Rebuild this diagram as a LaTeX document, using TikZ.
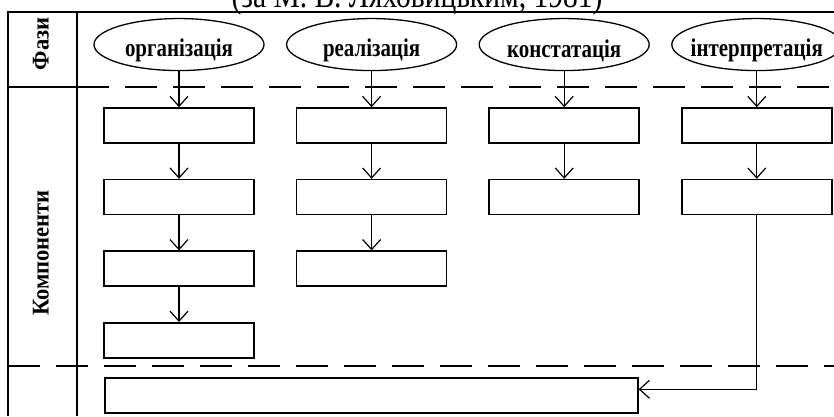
\documentclass[tikz,border=0pt]{standalone}
\usepackage{fontspec}
\setmainfont{Liberation Serif}
\newfontfamily\narrowfont[FakeStretch=0.82]{Liberation Serif}
\newfontfamily\headfont[FakeStretch=0.94]{Liberation Serif}
\usetikzlibrary{positioning,shapes.geometric,arrows.meta}

\begin{document}
\begin{tikzpicture}[
                x=1pt,y=-1pt,
                node distance=35pt and 41pt,
                comp/.style={rectangle,draw,line width=1.6pt,minimum width=150pt,minimum height=35pt,inner sep=0pt},
                phase/.style={ellipse,draw,line width=1.3pt,minimum width=170pt,minimum height=52pt,inner sep=0pt,
                              label={[font=\narrowfont\bfseries\fontsize{25.5}{25.5}\selectfont,anchor=base,yshift=-6pt]center:#1}},
                arr/.style={-{Straight Barb[length=10pt,width=18pt]},line width=1.2pt},
                sep/.style={dash pattern=on 32pt off 16pt,line width=1.6pt},
                head/.style={rotate=90,font=\headfont\bfseries\fontsize{24}{24}\selectfont}
            ]
                \useasboundingbox (0,0) rectangle (834,416);
                % frame
                \draw[line width=1.6pt] (8,416) -- (8,12) -- (834,12);
                \draw[line width=1.6pt] (77,12) -- (77,416);
                \draw[line width=1.6pt] (8,87) -- (77,87);
                \draw[sep] (77,87) -- (834,87);
                \draw[sep] (8,366) -- (834,366);
                \node (title) [anchor=base,font=\narrowfont\fontsize{36}{36}\selectfont] at (417,7) {(за М. В. Ляховицьким, 1981)};
                \node (fazy) [head] at (41,44) {Фази};
                \node (komp) [head] at (41,253) {Компоненти};
                % components
                \node (A1) [comp] at (179,125.5) {};
                \node (A2) [comp,below=of A1] {};
                \node (A3) [comp,below=of A2] {};
                \node (A4) [comp,below=of A3] {};
                \node (B1) [comp,right=of A1] {};
                \node (B2) [comp,below=of B1] {};
                \node (B3) [comp,below=of B2] {};
                \node (C1) [comp,right=of B1] {};
                \node (C2) [comp,below=of C1] {};
                \node (D1) [comp,right=of C1] {};
                \node (D2) [comp,below=of D1] {};
                \node (Z)  [comp,minimum width=533pt,anchor=north west] at (104,377) {};
                % phases
                \node (PA) [phase=організація,above=36pt of A1] {};
                \node (PB) [phase=реалізація,above=36pt of B1] {};
                \node (PC) [phase=констатація,above=36pt of C1] {};
                \node (PD) [phase=інтерпретація,above=36pt of D1] {};
                \draw[arr] (PA) -- (A1);
                \draw[arr] (A1) -- (A2);
                \draw[arr] (A2) -- (A3);
                \draw[arr] (A3) -- (A4);
                \draw[arr] (PB) -- (B1);
                \draw[arr] (B1) -- (B2);
                \draw[arr] (B2) -- (B3);
                \draw[arr] (PC) -- (C1);
                \draw[arr] (C1) -- (C2);
                \draw[arr] (PD) -- (D1);
                \draw[arr] (D1) -- (D2);
                \draw[arr] (D2.south) |- ([yshift=6pt]Z.east);
            \end{tikzpicture}
\end{document}
